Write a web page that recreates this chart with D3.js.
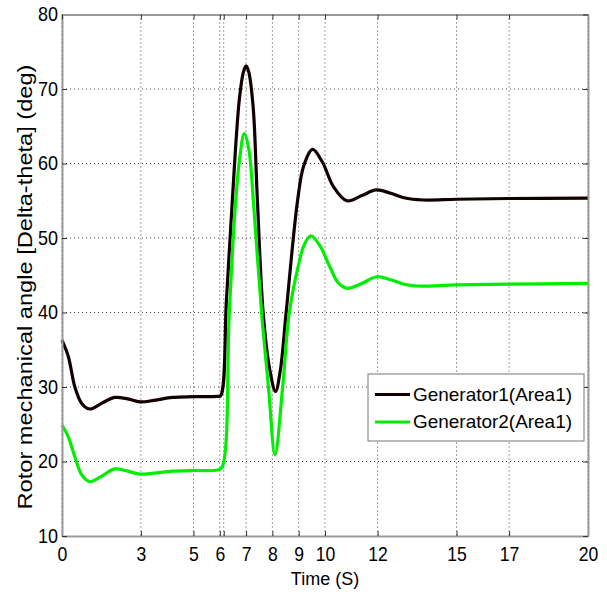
<!DOCTYPE html>
<html>
<head>
<meta charset="utf-8">
<script src="https://cdn.jsdelivr.net/npm/d3@7"></script>
<style>
  body { margin: 0; background: #fff; }
  svg { font-family: "Liberation Sans", Arial, sans-serif; }
  .grid line { stroke: #444; stroke-width: 1; stroke-dasharray: 1,3; }
  .axis path { stroke: #999; stroke-width: 2; }
  .axis line { stroke: #333; }
  .axis text { fill: #000; font-size: 20px; }
</style>
</head>
<body>
<script>
'use strict'

// time (s) and rotor angle (deg)
const timeG1 = [0, 0.24, 0.49, 0.75, 1.06, 1.5, 2.0, 2.5, 2.97, 3.5, 4.2, 5.0, 5.9, 6.03, 6.25, 6.45,
  6.74, 6.9, 7.0, 7.1, 7.27, 7.43, 7.65, 7.9, 8.12, 8.3, 8.52, 8.96, 9.2, 9.53, 9.9,
  10.32, 10.83, 11.4, 11.94, 12.5, 13.0, 13.74, 15, 17, 20]
const angleG1 = [36.3, 34.1, 30.0, 27.8, 27.05, 27.8, 28.6, 28.4, 28.0, 28.2, 28.6, 28.7, 28.75, 28.8, 41.5, 53.5,
  68.5, 72.3, 73.1, 72.3, 67.5, 55, 39.9, 32.3, 29.4, 32.2, 39.9, 55.1, 59.8, 61.9, 60.2,
  56.9, 55.0, 55.7, 56.45, 56.0, 55.4, 55.1, 55.2, 55.3, 55.35]

const timeG2 = [0, 0.24, 0.49, 0.75, 1.06, 1.5, 2.0, 2.5, 2.97, 3.5, 4.2, 5.0, 5.9, 6.08, 6.36, 6.58,
  6.75, 6.93, 7.1, 7.3, 7.59, 7.85, 8.1, 8.39, 8.64, 9.0, 9.2, 9.46, 9.8, 10.2, 10.5, 10.83,
  11.4, 11.97, 12.5, 13.0, 13.49, 15, 17, 20]
const angleG2 = [24.9, 23.3, 20.6, 18.2, 17.3, 18.0, 19.0, 18.7, 18.3, 18.45, 18.7, 18.8, 18.85, 19.2, 39.9, 53.8,
  60.5, 64.0, 62.0, 53.8, 39.9, 30.0, 20.9, 30.0, 39.9, 46.5, 49.0, 50.3, 49.0, 46.0, 44.0, 43.25,
  43.9, 44.8, 44.4, 43.8, 43.56, 43.7, 43.8, 43.9]

const xTicks = [0, 3, 5, 6, 6.15, 7, 8, 9, 10, 12, 15, 17, 20]
const xTickLabels = ['0', '3', '5', '6', '', '7', '8', '9', '10', '12', '15', '17', '20']
const yTicks = [10, 20, 30, 40, 50, 60, 70, 80]

const seriesNames = ['Generator1(Area1)', 'Generator2(Area1)']
const seriesColors = ['#120000', '#00ee00']

const width = 607
const height = 592
const plotLeft = 62, plotRight = 588, plotTop = 14.5, plotBottom = 536

const x = d3.scaleLinear().domain([0, 20]).range([plotLeft, plotRight])
const y = d3.scaleLinear().domain([10, 80]).range([plotBottom, plotTop])

const svg = d3.select('body').append('svg')
    .attr('width', width)
    .attr('height', height)

// dotted grid
const grid = svg.append('g').attr('class', 'grid')
grid.selectAll('.vx')
    .data(xTicks)
  .enter().append('line')
    .attr('x1', d => x(d)).attr('x2', d => x(d))
    .attr('y1', plotTop).attr('y2', plotBottom)
grid.selectAll('.hy')
    .data(yTicks.slice(1, -1))
  .enter().append('line')
    .attr('x1', plotLeft).attr('x2', plotRight)
    .attr('y1', d => y(d)).attr('y2', d => y(d))

// series
const series = [
  timeG1.map((t, i) => [t, angleG1[i]]),
  timeG2.map((t, i) => [t, angleG2[i]])
]
const line = d3.line()
    .x(d => x(d[0]))
    .y(d => y(d[1]))
    .curve(d3.curveCatmullRom.alpha(0.5))

svg.selectAll('.series')
    .data(series)
  .enter().append('path')
    .attr('class', 'series')
    .attr('fill', 'none')
    .attr('stroke', (d, i) => seriesColors[i])
    .attr('stroke-width', 3.2)
    .attr('stroke-linejoin', 'round')
    .attr('d', line)

// axes, ticks pointing inward
const labelIdx = new Map(xTicks.map((t, i) => [t, xTickLabels[i]]))
svg.append('g')
    .attr('class', 'axis')
    .attr('transform', 'translate(0,' + plotBottom + ')')
    .call(d3.axisBottom(x).tickValues(xTicks).tickSizeInner(-5).tickSizeOuter(0).tickPadding(11)
      .tickFormat(d => labelIdx.get(d)))
  .selectAll('text')
    .attr('transform', 'scale(0.88,1)')

svg.append('g')
    .attr('class', 'axis')
    .attr('transform', 'translate(' + plotLeft + ',0)')
    .call(d3.axisLeft(y).tickValues(yTicks).tickSizeInner(-5).tickSizeOuter(0).tickPadding(4.5))
  .selectAll('text')
    .attr('transform', 'scale(0.9,1)')

svg.append('g')
    .attr('class', 'axis')
    .attr('transform', 'translate(0,' + plotTop + ')')
    .call(d3.axisTop(x).tickValues(xTicks).tickSizeInner(-5).tickSizeOuter(0).tickFormat(''))

svg.append('g')
    .attr('class', 'axis')
    .attr('transform', 'translate(' + plotRight + ',0)')
    .call(d3.axisRight(y).tickValues(yTicks).tickSizeInner(-5).tickSizeOuter(0).tickFormat(''))

// axis titles
svg.append('text')
    .attr('x', 325)
    .attr('y', 585)
    .attr('text-anchor', 'middle')
    .style('font-size', '18px')
    .text('Time (S)')

svg.append('text')
    .attr('transform', 'translate(32,287) rotate(-90)')
    .attr('text-anchor', 'middle')
    .attr('textLength', 445)
    .attr('lengthAdjust', 'spacingAndGlyphs')
    .style('font-size', '20px')
    .text('Rotor mechanical angle [Delta-theta] (deg)')

// legend
const legend = svg.append('g').attr('transform', 'translate(368,374)')
legend.append('rect')
    .attr('width', 216)
    .attr('height', 67)
    .attr('fill', '#fff')
    .attr('stroke', '#777')
    .attr('stroke-width', 1)

const item = legend.selectAll('.item')
    .data(seriesNames)
  .enter().append('g')
    .attr('transform', (d, i) => 'translate(0,' + (20.5 + i * 27.5) + ')')
item.append('line')
    .attr('x1', 7).attr('x2', 42)
    .attr('stroke', (d, i) => seriesColors[i])
    .attr('stroke-width', 3.2)
item.append('text')
    .attr('x', 45)
    .attr('y', 6)
    .attr('textLength', 159)
    .attr('lengthAdjust', 'spacingAndGlyphs')
    .style('font-size', '19px')
    .text(d => d)
</script>
</body>
</html>
